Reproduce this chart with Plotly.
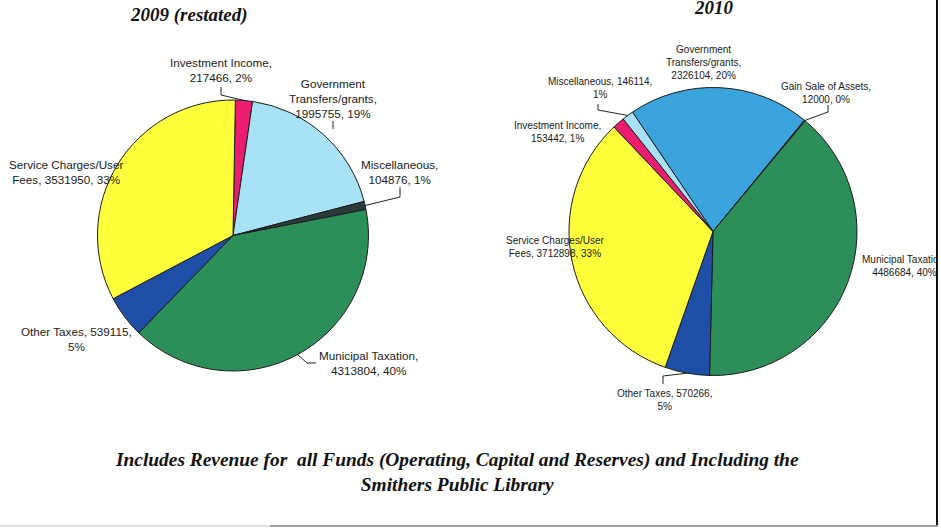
import math
import plotly.graph_objects as go

# ---------------- data ----------------
cats_2009 = ["Investment Income", "Government Transfers/grants", "Miscellaneous",
             "Municipal Taxation", "Other Taxes", "Service Charges/User Fees"]
vals_2009 = [217466, 1995755, 104876, 4313804, 539115, 3531950]
pcts_2009 = [2, 19, 1, 40, 5, 33]

cats_2010 = ["Government Transfers/grants", "Gain Sale of Assets", "Municipal Taxation",
             "Other Taxes", "Service Charges/User Fees", "Investment Income", "Miscellaneous"]
vals_2010 = [2326104, 12000, 4486684, 570266, 3712898, 153442, 146114]
pcts_2010 = [20, 0, 40, 5, 33, 1, 1]

titles = ["2009 (restated)", "2010"]
caption = ("Includes Revenue for\u00a0 all Funds (Operating, Capital and Reserves) "
           "and Including the<br>Smithers Public Library")

# ---------------- styling / layout ----------------
W, H = 938, 531
colors_2009 = ["#ec1c6e", "#a8e2f7", "#2a3a3b", "#2c8f59", "#1f4ea6", "#ffff3c"]
colors_2010 = ["#3ba4dc", "#7a3e8c", "#2c8f59", "#1f4ea6", "#ffff3c", "#ec1c6e", "#a8e2f7"]

# pie geometry in pixels: centre x, centre y, radius, start rotation
PIE1 = dict(cx=233, cy=235.5, r=135.5, rot=1)
PIE2 = dict(cx=713, cy=231.5, r=144, rot=-34)

LABEL_FONT = "Liberation Sans"
SERIF = "Liberation Serif"

# label placement: centre of text block (px), words per line
lab_2009 = [
    dict(x=221, y=70.5, wrap=[2, 2]),
    dict(x=333, y=99, wrap=[1, 1, 2]),
    dict(x=399.5, y=172, wrap=[1, 2]),
    dict(x=368, y=363, wrap=[2, 2]),
    dict(x=76, y=339, wrap=[3, 1]),
    dict(x=66, y=172, wrap=[2, 3]),
]
lab_2010 = [
    dict(x=703, y=62, wrap=[1, 1, 2]),
    dict(x=826, y=92.5, wrap=[4, 2]),
    dict(x=904, y=266, wrap=[2, 2]),
    dict(x=664.5, y=400, wrap=[3, 1]),
    dict(x=555, y=246.5, wrap=[2, 3]),
    dict(x=557.5, y=131.5, wrap=[2, 2]),
    dict(x=600, y=88, wrap=[2, 1]),
]

# leader lines: fixed elbow points from the label, ending at the slice's outer edge
leaders_2009 = {0: [(221, 87), (221, 95)], 2: [(400, 187), (400, 197)],
                3: [(316, 363), (307, 363)]}
leaders_2010 = {1: [(828, 105), (828, 112)], 6: [(598, 104), (598, 110)],
                3: [(663, 384), (663, 376)]}


def px(x):
    return x / W


def py(y):
    return 1 - y / H


def domain(p):
    return dict(x=[px(p["cx"] - p["r"]), px(p["cx"] + p["r"])],
                y=[py(p["cy"] + p["r"]), py(p["cy"] - p["r"])])


def edge_point(vals, i, p):
    tot = float(sum(vals))
    start = sum(vals[:i]) / tot * 360 + p["rot"]
    mid = math.radians(start + vals[i] / tot * 180)
    return p["cx"] + p["r"] * math.sin(mid), p["cy"] - p["r"] * math.cos(mid)


def label_text(cat, val, pct, wrap):
    words = f"{cat}, {val}, {pct}%".split(" ")
    lines, k = [], 0
    for n in wrap:
        lines.append(" ".join(words[k:k + n]))
        k += n
    return "<br>".join(lines)


fig = go.Figure()
for cats, vals, cols, p in [(cats_2009, vals_2009, colors_2009, PIE1),
                            (cats_2010, vals_2010, colors_2010, PIE2)]:
    fig.add_trace(go.Pie(
        labels=cats, values=vals, sort=False, direction="clockwise",
        rotation=p["rot"], domain=domain(p), textinfo="none",
        textposition="none", showlegend=False,
        marker=dict(colors=cols, line=dict(color="#1c1c1c", width=1)),
    ))

annotations = []
shapes = []
for cats, vals, pcts, labs, leaders, p, size in [
        (cats_2009, vals_2009, pcts_2009, lab_2009, leaders_2009, PIE1, 11.7),
        (cats_2010, vals_2010, pcts_2010, lab_2010, leaders_2010, PIE2, 10)]:
    for i, (c, v, pc, lab) in enumerate(zip(cats, vals, pcts, labs)):
        annotations.append(dict(
            x=px(lab["x"]), y=py(lab["y"]), xref="paper", yref="paper",
            text=label_text(c, v, pc, lab["wrap"]), showarrow=False,
            xanchor="center", yanchor="middle",
            font=dict(family=LABEL_FONT, size=size, color="#1a1a1a")))
    for i, pts in leaders.items():
        ex, ey = edge_point(vals, i, p)
        allpts = pts + [(ex, ey)]
        path = "M " + " L ".join(f"{px(a):.5f},{py(b):.5f}" for a, b in allpts)
        shapes.append(dict(type="path", path=path, xref="paper", yref="paper",
                           layer="above", line=dict(color="#222222", width=1)))

# short tick under the 2009 government transfers label
shapes.append(dict(type="line", xref="paper", yref="paper", layer="above",
                   x0=px(333), x1=px(333), y0=py(121), y1=py(129),
                   line=dict(color="#222222", width=1)))

# chart titles
for t, (x, y) in zip(titles, [(189, 15), (714, 7)]):
    annotations.append(dict(
        x=px(x), y=py(y), xref="paper", yref="paper", text=t, showarrow=False,
        xanchor="center", yanchor="middle",
        font=dict(family=SERIF, size=19, color="#111111",
                  weight="bold", style="italic")))

# footnote
annotations.append(dict(
    x=px(457), y=py(471.5), xref="paper", yref="paper", text=caption,
    showarrow=False, xanchor="center", yanchor="middle", align="center",
    font=dict(family=SERIF, size=19.4, color="#111111",
              weight="bold", style="italic")))

# frame edges
shapes.append(dict(type="line", xref="paper", yref="paper", layer="above",
                   x0=px(937), x1=px(937), y0=py(0), y1=py(526),
                   line=dict(color="#111111", width=2)))
shapes.append(dict(type="line", xref="paper", yref="paper", layer="above",
                   x0=0, x1=px(270), y0=py(526), y1=py(526),
                   line=dict(color="#dedede", width=2)))
shapes.append(dict(type="line", xref="paper", yref="paper", layer="above",
                   x0=px(270), x1=1, y0=py(526), y1=py(526),
                   line=dict(color="#9c9c9c", width=2)))

fig.update_layout(
    width=W, height=H, margin=dict(l=0, r=0, t=0, b=0),
    paper_bgcolor="white", plot_bgcolor="white",
    annotations=annotations, shapes=shapes,
)

fig.write_html("out.html")
